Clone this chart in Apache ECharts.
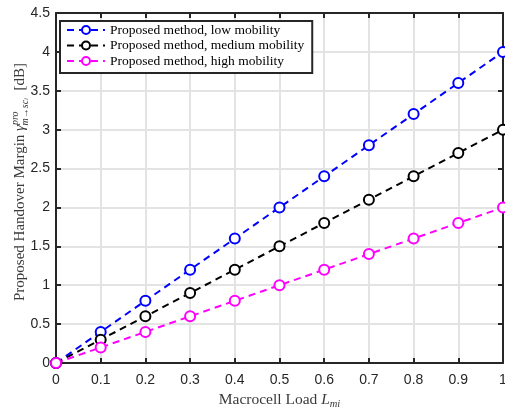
<!DOCTYPE html>
<html><head><meta charset="utf-8">
<script src="https://cdn.jsdelivr.net/npm/echarts@6/dist/echarts.min.js"></script>
<style>html,body{margin:0;padding:0;background:#fff}#c{width:505px;height:407px}</style>
</head><body><div id="c"></div>
<script>
const loads = [0, 0.1, 0.2, 0.3, 0.4, 0.5, 0.6, 0.7, 0.8, 0.9, 1.0];
const lowMobility = [0, 0.4, 0.8, 1.2, 1.6, 2.0, 2.4, 2.8, 3.2, 3.6, 4.0];
const mediumMobility = [0, 0.3, 0.6, 0.9, 1.2, 1.5, 1.8, 2.1, 2.4, 2.7, 3.0];
const highMobility = [0, 0.2, 0.4, 0.6, 0.8, 1.0, 1.2, 1.4, 1.6, 1.8, 2.0];
const seriesNames = ['Proposed method, low mobility', 'Proposed method, medium mobility', 'Proposed method, high mobility'];
const colors = ['#0000ff', '#000000', '#ff00ff'];

const chart = echarts.init(document.getElementById('c'), null, {renderer: 'canvas'});
const axisColor = '#262626';
const gridColor = '#e3e3e3';
const tickFont = {fontFamily: 'Liberation Sans, Arial, sans-serif', fontSize: 14, color: axisColor};
function mk(name, data, color) {
  return {
    name, type: 'line', data: loads.map((x, i) => [x, data[i]]),
    symbol: 'circle', symbolSize: 10, showSymbol: true,
    lineStyle: {color, width: 2, type: [7, 5]},
    itemStyle: {color: '#ffffff', borderColor: color, borderWidth: 2},
    emphasis: {disabled: true}, animation: false
  };
}
chart.setOption({
  animation: false,
  grid: {left: 56, right: 2, top: 13, bottom: 44, containLabel: false, outerBoundsMode: 'none'},
  legend: {
    left: 60, top: 21, orient: 'vertical', itemGap: 1.5, itemWidth: 38, itemHeight: 10,
    backgroundColor: '#ffffff', borderColor: axisColor, borderWidth: 2, borderRadius: 0,
    padding: [2, 8, 5, 6],
    textStyle: {fontFamily: 'Liberation Serif, Times New Roman, serif', fontSize: 13.5, color: '#000'},
    data: seriesNames
  },
  xAxis: [{
    type: 'value', min: 0, max: 1, interval: 0.1,
    name: '{t|Macrocell Load }{i|L}{s|mi}', nameLocation: 'middle', nameGap: 21,
    nameTextStyle: {rich: {
      t: {fontFamily: 'Liberation Serif, serif', fontSize: 15.5, color: '#3a3a3a'},
      i: {fontFamily: 'Liberation Serif, serif', fontStyle: 'italic', fontSize: 15.5, color: '#3a3a3a'},
      s: {fontFamily: 'Liberation Serif, serif', fontStyle: 'italic', fontSize: 10.5, color: '#3a3a3a', padding: [8, 0, 0, 0]}
    }},
    axisLine: {show: true, onZero: false, lineStyle: {color: axisColor, width: 2}},
    axisTick: {show: true, inside: true, length: 5, lineStyle: {color: axisColor, width: 2}},
    axisLabel: Object.assign({margin: 10, formatter: v => String(+v.toFixed(1))}, tickFont),
    splitLine: {show: true, lineStyle: {color: gridColor, width: 2}}
  }, {
    type: 'value', min: 0, max: 1, interval: 0.1, position: 'top',
    axisLine: {show: true, onZero: false, lineStyle: {color: axisColor, width: 2}},
    axisTick: {show: true, inside: true, length: 5, lineStyle: {color: axisColor, width: 2}},
    axisLabel: {show: false}, splitLine: {show: false}
  }],
  yAxis: [{
    type: 'value', min: 0, max: 4.5, interval: 0.5,
    name: '{t|Proposed Handover Margin }{g|γ}{p|pro}{b|m→sc}{c|i}{t|  [dB]}', nameLocation: 'middle', nameRotate: 90, nameGap: 26,
    nameMoveOverlap: false,
    nameTextStyle: {padding: [0, 0, 0, 12], rich: {
      t: {fontFamily: 'Liberation Serif, serif', fontSize: 15, color: '#3a3a3a', lineHeight: 20},
      g: {fontFamily: 'Liberation Serif, serif', fontStyle: 'italic', fontSize: 15, color: '#3a3a3a', lineHeight: 20},
      p: {fontFamily: 'Liberation Serif, serif', fontStyle: 'italic', fontSize: 10, color: '#3a3a3a', verticalAlign: 'top', lineHeight: 20},
      b: {fontFamily: 'Liberation Serif, serif', fontStyle: 'italic', fontSize: 10, color: '#3a3a3a', verticalAlign: 'bottom', lineHeight: 20, padding: [0,0,0,-14]},
      c: {fontFamily: 'Liberation Serif, serif', fontStyle: 'italic', fontSize: 7, color: '#3a3a3a', verticalAlign: 'bottom', lineHeight: 16}
    }},
    axisLine: {show: true, onZero: false, lineStyle: {color: axisColor, width: 2}},
    axisTick: {show: true, inside: true, length: 5, lineStyle: {color: axisColor, width: 2}},
    axisLabel: Object.assign({margin: 6, formatter: v => String(+v.toFixed(1))}, tickFont),
    splitLine: {show: true, lineStyle: {color: gridColor, width: 2}}
  }, {
    type: 'value', min: 0, max: 4.5, interval: 0.5, position: 'right',
    axisLine: {show: true, onZero: false, lineStyle: {color: axisColor, width: 2}},
    axisTick: {show: true, inside: true, length: 5, lineStyle: {color: axisColor, width: 2}},
    axisLabel: {show: false}, splitLine: {show: false}
  }],
  series: [
    mk(seriesNames[0], lowMobility, colors[0]),
    mk(seriesNames[1], mediumMobility, colors[1]),
    mk(seriesNames[2], highMobility, colors[2])
  ]
});
</script></body></html>
